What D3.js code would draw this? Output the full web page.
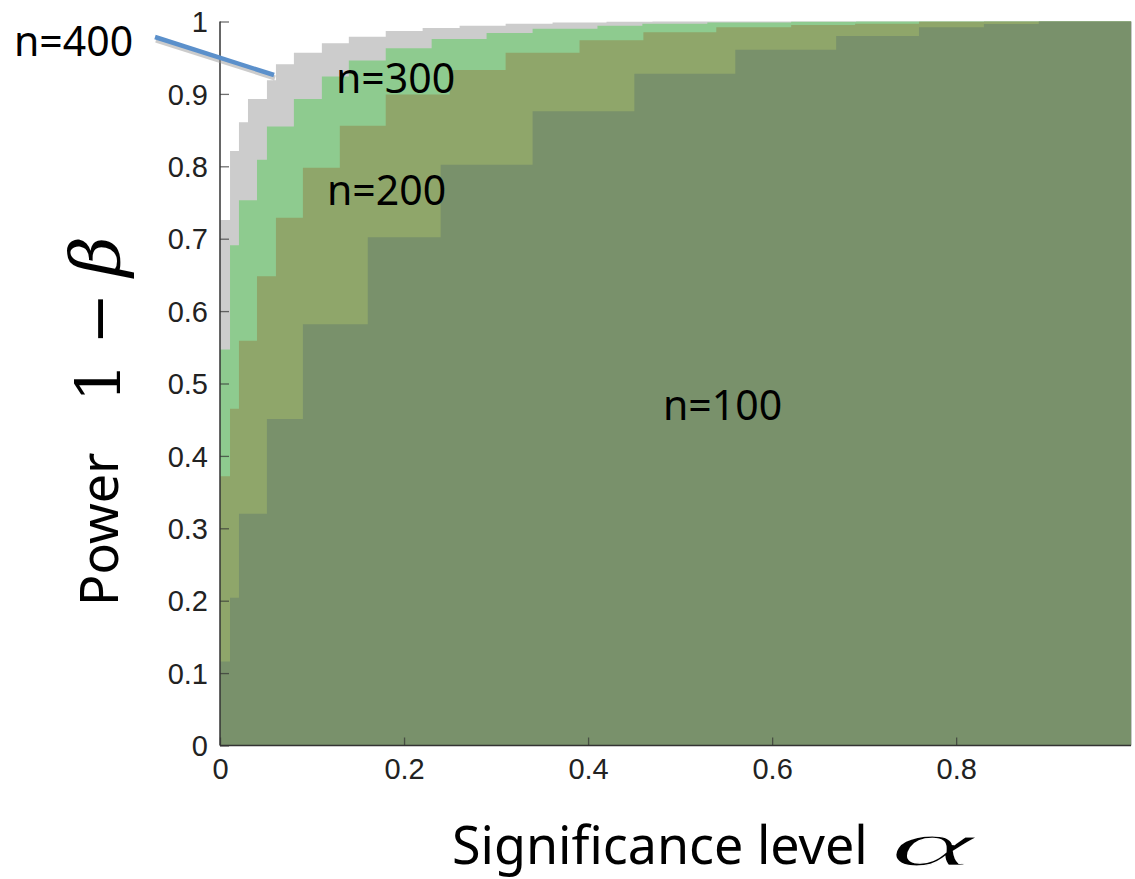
<!DOCTYPE html>
<html>
<head>
<meta charset="utf-8">
<script src="https://cdn.jsdelivr.net/npm/d3@7"></script>
<style>
body { margin: 0; background: #fff; }
svg { display: block; }
</style>
</head>
<body>
<svg width="1135" height="879"></svg>
<script>
// step functions: power stays at pow[i] from alpha[i] until alpha[i+1]
var alpha400 = [0, 0.0109, 0.0206, 0.0304, 0.0510, 0.0608, 0.0803, 0.1107, 0.1400, 0.1801, 0.2202, 0.2604, 0.3104, 0.3614, 0.4200, 0.4699];
var pow400   = [0.726, 0.821, 0.861, 0.893, 0.919, 0.941, 0.957, 0.970, 0.979, 0.987, 0.991, 0.994, 0.997, 0.9986, 0.9995, 1.0];

var alpha300 = [0, 0.0109, 0.0206, 0.0402, 0.0510, 0.0803, 0.1107, 0.1400, 0.1801, 0.2300, 0.2897, 0.3397, 0.4102, 0.4590, 0.5296, 0.6207, 0.6913];
var pow300   = [0.547, 0.691, 0.753, 0.809, 0.855, 0.893, 0.924, 0.946, 0.963, 0.976, 0.984, 0.990, 0.994, 0.997, 0.9986, 0.9995, 1.0];

var alpha200 = [0, 0.0109, 0.0206, 0.0402, 0.0608, 0.0901, 0.1302, 0.1801, 0.2496, 0.3104, 0.3907, 0.4601, 0.5393, 0.6207, 0.6902, 0.7596, 0.8302];
var pow200   = [0.372, 0.465, 0.559, 0.648, 0.729, 0.798, 0.856, 0.899, 0.933, 0.957, 0.974, 0.985, 0.992, 0.995, 0.997, 0.9995, 1.0];

var alpha100 = [0, 0.0109, 0.0206, 0.0510, 0.0901, 0.1606, 0.2398, 0.3397, 0.4503, 0.5600, 0.6696, 0.7596, 0.8302, 0.8898];
var pow100   = [0.116, 0.204, 0.320, 0.451, 0.582, 0.702, 0.802, 0.876, 0.928, 0.961, 0.980, 0.992, 0.9965, 1.0];

var seriesNames = ["n=400", "n=300", "n=200", "n=100"];
var colors = ["#cccccc", "#8ecb8f", "#8fa66a", "#79916b"];
var xTicks = [0, 0.2, 0.4, 0.6, 0.8];
var yTicks = [0, 0.1, 0.2, 0.3, 0.4, 0.5, 0.6, 0.7, 0.8, 0.9, 1];

var svg = d3.select("svg");
var alphaMax = 0.99;

var x = d3.scaleLinear().domain([0, alphaMax]).range([220, 1131]),
    y = d3.scaleLinear().domain([0, 1]).range([745.5, 21.5]);

function steps(a, p) {
  var pts = a.map(function(d, i) { return {a: d, p: p[i]}; });
  pts.push({a: alphaMax, p: p[p.length - 1]});
  return pts;
}

var series = [steps(alpha400, pow400), steps(alpha300, pow300), steps(alpha200, pow200), steps(alpha100, pow100)];

var area = d3.area()
    .curve(d3.curveStepAfter)
    .x(function(d) { return x(d.a); })
    .y0(y(0))
    .y1(function(d) { return y(d.p); });

svg.selectAll(".area")
  .data(series)
  .enter().append("path")
    .attr("class", "area")
    .attr("d", area)
    .attr("fill", function(d, i) { return colors[i]; });

// faint right border
svg.append("line")
    .attr("x1", x(alphaMax) + 0.5).attr("x2", x(alphaMax) + 0.5)
    .attr("y1", y(1)).attr("y2", y(0))
    .attr("stroke", "#c8c8c8").attr("stroke-width", 1);

// axes, ticks pointing inwards
var gx = svg.append("g")
    .attr("transform", "translate(0," + y(0) + ")")
    .call(d3.axisBottom(x).tickValues(xTicks).tickSize(-8).tickPadding(13)
      .tickFormat(function(d) { return d === 0 ? "0" : d3.format(".1f")(d); }));

var gy = svg.append("g")
    .attr("transform", "translate(" + x(0) + ",0)")
    .call(d3.axisLeft(y).tickValues(yTicks).tickSize(-9).tickPadding(12)
      .tickFormat(function(d) { return (d === 0 || d === 1) ? String(d) : d3.format(".1f")(d); }));

svg.selectAll(".domain").remove();
gx.append("line").attr("x1", x(0)).attr("x2", x(alphaMax)).attr("stroke", "#333").attr("stroke-width", 1.5);
gy.append("line").attr("y1", y(1)).attr("y2", y(0)).attr("stroke", "#333").attr("stroke-width", 1.5);

svg.selectAll(".tick line").attr("stroke", "#333").attr("stroke-opacity", 0.7).attr("stroke-width", 1.3);
svg.selectAll(".tick text")
    .style("font-family", "'Liberation Sans Narrow', 'Liberation Sans', Arial, sans-serif")
    .style("font-size", "29px")
    .attr("fill", "#222");
gy.selectAll(".tick text").attr("dy", "0.35em");

// series labels
var labelPos = [[14, 56], [336, 93], [327, 205], [663, 420]];
svg.selectAll(".lbl")
  .data(seriesNames)
  .enter().append("text")
    .attr("class", "lbl")
    .attr("x", function(d, i) { return labelPos[i][0]; })
    .attr("y", function(d, i) { return labelPos[i][1]; })
    .style("font-family", "'Noto Sans', sans-serif")
    .style("font-size", "41px")
    .attr("fill", "#000")
    .text(function(d) { return d; });

// pointer from n=400 label
svg.append("line")
    .attr("x1", 156).attr("y1", 40).attr("x2", 275).attr("y2", 78)
    .attr("stroke", "#999").attr("stroke-opacity", 0.5).attr("stroke-width", 5);
svg.append("line")
    .attr("x1", 155).attr("y1", 37).attr("x2", 274).attr("y2", 75)
    .attr("stroke", "#5b90cb").attr("stroke-width", 4.5);

// axis titles
svg.append("text")
    .attr("transform", "translate(118,606) rotate(-90)")
    .style("font-family", "'Noto Sans', sans-serif")
    .style("font-size", "52px")
    .text("Power");

svg.append("text")
    .attr("transform", "translate(120,402) rotate(-90)")
    .style("font-family", "'DejaVu Serif', serif")
    .style("font-size", "62px")
    .call(function(t) {
      t.append("tspan").text("1");
      t.append("tspan").attr("dx", 18).text("\u2212");
      t.append("tspan").attr("dx", 16).style("font-style", "italic").style("font-size", "70px").text("\u03b2");
    });

svg.append("text")
    .attr("x", 452).attr("y", 864)
    .style("font-family", "'Noto Sans', sans-serif")
    .style("font-size", "52px")
    .text("Significance level");

svg.append("text")
    .attr("x", 890).attr("y", 865)
    .attr("textLength", 84)
    .attr("lengthAdjust", "spacingAndGlyphs")
    .style("font-family", "'Liberation Serif', serif")
    .style("font-size", "62px")
    .style("font-style", "italic")
    .attr("stroke", "#fff").attr("stroke-width", 1.2)
    .text("\u03b1");
</script>
</body>
</html>
